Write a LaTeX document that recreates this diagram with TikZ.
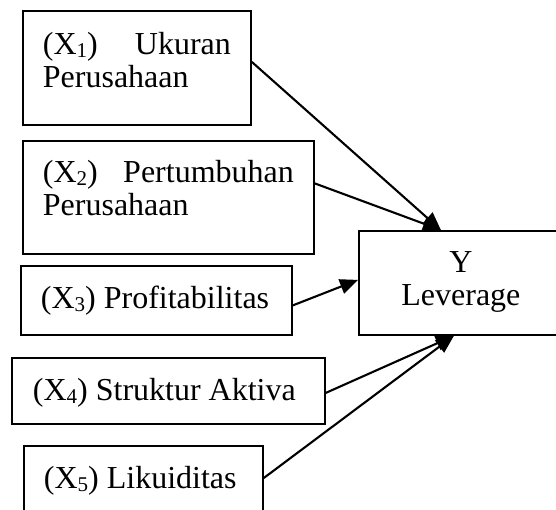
\documentclass[tikz,border=0pt]{standalone}
\usepackage{fontspec}
\setmainfont{Liberation Serif}
\usetikzlibrary{arrows.meta}
\newcommand{\lowsub}[1]{\raisebox{-3pt}{\fontsize{21}{21}\selectfont #1}}
\begin{document}
\begin{tikzpicture}[x=1pt,y=-1pt,
  box/.style={draw=black,line width=1.8pt,inner ysep=0pt,anchor=north west,
    font=\fontsize{32}{33}\selectfont},
  link/.style={line width=2.1pt,-{Triangle[length=18pt,width=15pt]}}]
\useasboundingbox (0,0) rectangle (556,509);
\node[box,inner xsep=20pt] (x1) at (22,10)
  {\parbox[c][114pt][t]{188pt}{\rule{0pt}{44pt}(X\lowsub{1})\hfill Ukuran\\Perusahaan}};
\node[box,inner xsep=20pt] (x2) at (22,140)
  {\parbox[c][113pt][t]{251pt}{\rule{0pt}{42pt}(X\lowsub{2})\hfill Pertumbuhan\\Perusahaan}};
\node[box,inner xsep=20pt] (x3) at (20,265)
  {\parbox[c][69pt][t]{231pt}{\rule{0pt}{43pt}(X\lowsub{3}) Profitabilitas}};
\node[box,inner xsep=21pt] (x4) at (11,357)
  {\parbox[c][66pt][t]{271pt}{\rule{0pt}{43pt}(X\lowsub{4}) Struktur Aktiva}};
\node[box,inner xsep=20pt] (x5) at (23,445)
  {\parbox[c][95pt][t]{199pt}{\rule{0pt}{43pt}(X\lowsub{5}) Likuiditas}};
\node[box,inner xsep=10pt] (y) at (358,230)
  {\parbox[c][104pt][t]{184pt}{\centering\rule{0pt}{42pt}Y\\Leverage}};
\draw[link] ([yshift=6pt]x1.east) -- ([xshift=-20pt]y.north);
\draw[link] ([yshift=14pt]x2.east) -- ([xshift=-20pt]y.north);
\draw[link] ([yshift=-5pt]x3.east) -- ([yshift=3pt]y.west);
\draw[link] ([yshift=-2pt]x4.east) -- ([xshift=-7pt]y.south);
\draw[link] ([yshift=-33pt]x5.north east) -- ([xshift=-7pt]y.south);
\end{tikzpicture}
\end{document}
